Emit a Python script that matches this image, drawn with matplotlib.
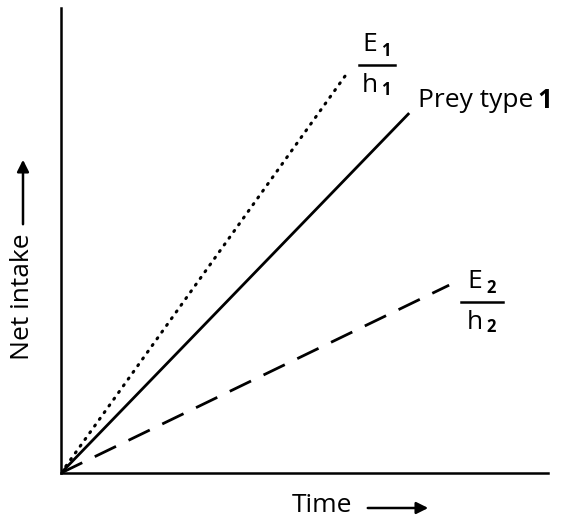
import matplotlib
matplotlib.use('Agg')

import matplotlib.pyplot as plt
from matplotlib.patches import FancyArrowPatch

plt.rcParams['font.family'] = ['Open Sans', 'DejaVu Sans']

# end points of the three intake lines (time, net intake), origin at (0, 0)
series_names = ["E1/h1", "Prey type 1", "E2/h2"]
end_time = [5.89, 7.15, 7.97]
end_intake = [8.62, 7.74, 4.04]
line_styles = [(0, (0.4, 2.3)), '-', (0, (8.5, 5))]


def fraction_label(ax, x, y, dx, dy, sub, half=18):
    # stacked E_n / h_n; dx, dy = pixel offset from line end to bar centre
    kw = dict(xycoords='data', textcoords='offset pixels', color='black',
              ha='center', va='center')
    ax.annotate('E', (x, y), xytext=(dx - 7, dy + 21), fontsize=19, **kw)
    ax.annotate('h', (x, y), xytext=(dx - 7, dy - 20), fontsize=19, **kw)
    ax.annotate(sub, (x, y), xytext=(dx + 9, dy + 14), fontsize=12, fontweight='bold', **kw)
    ax.annotate(sub, (x, y), xytext=(dx + 9, dy - 25), fontsize=12, fontweight='bold', **kw)
    disp = ax.transData.transform((x, y))
    inv = ax.transData.inverted()
    p0 = inv.transform((disp[0] + dx - half, disp[1] + dy))
    p1 = inv.transform((disp[0] + dx + half, disp[1] + dy))
    ax.plot([p0[0], p1[0]], [p0[1], p1[1]], color='black', lw=1.8, clip_on=False)


def main():
    fig = plt.figure(figsize=(5.68, 5.22), dpi=100)
    ax = fig.add_axes([61 / 568, 49 / 522, 487 / 568, 465 / 522])
    ax.set_xlim(0, 10)
    ax.set_ylim(0, 10)
    for s in ['top', 'right']:
        ax.spines[s].set_visible(False)
    for s in ['left', 'bottom']:
        ax.spines[s].set_linewidth(1.8)
    ax.set_xticks([])
    ax.set_yticks([])

    for i, (t, v, ls) in enumerate(zip(end_time, end_intake, line_styles)):
        ax.plot([0, t], [0, v], color='black', lw=2.2 if i == 0 else 2.0, linestyle=ls,
                solid_capstyle='butt', dash_capstyle='round' if i == 0 else 'butt')

    fraction_label(ax, end_time[0], end_intake[0], 29, 7, series_names[0][1])
    fraction_label(ax, end_time[2], end_intake[2], 33, -17, series_names[2][1], half=21)

    prey = ax.annotate('Prey type', (end_time[1], end_intake[1]), xytext=(9, 13),
                       textcoords='offset pixels', ha='left', va='center', fontsize=19)
    ax.annotate('1', xy=(1, 0.5), xycoords=prey, xytext=(4, 0), textcoords='offset pixels',
                ha='left', va='center', fontsize=19, fontweight='bold')

    # axis labels with arrows
    fig.text(292 / 568, 1 - 506 / 522, 'Time', ha='left', va='center', fontsize=19)
    fig.add_artist(FancyArrowPatch(
        (365 / 568, 1 - 508 / 522), (431 / 568, 1 - 508 / 522), transform=fig.transFigure,
        arrowstyle='-|>,head_length=7,head_width=3.5', mutation_scale=1, lw=1.8, color='black'))
    fig.text(23 / 568, 1 - 297 / 522, 'Net intake', ha='center', va='center', rotation=90, fontsize=19)
    fig.add_artist(FancyArrowPatch(
        (23 / 568, 1 - 227 / 522), (23 / 568, 1 - 157 / 522), transform=fig.transFigure,
        arrowstyle='-|>,head_length=7,head_width=3.5', mutation_scale=1, lw=1.8, color='black'))

    fig.savefig('out.png', dpi=100)
    plt.close(fig)


if __name__ == "__main__":
    main()
